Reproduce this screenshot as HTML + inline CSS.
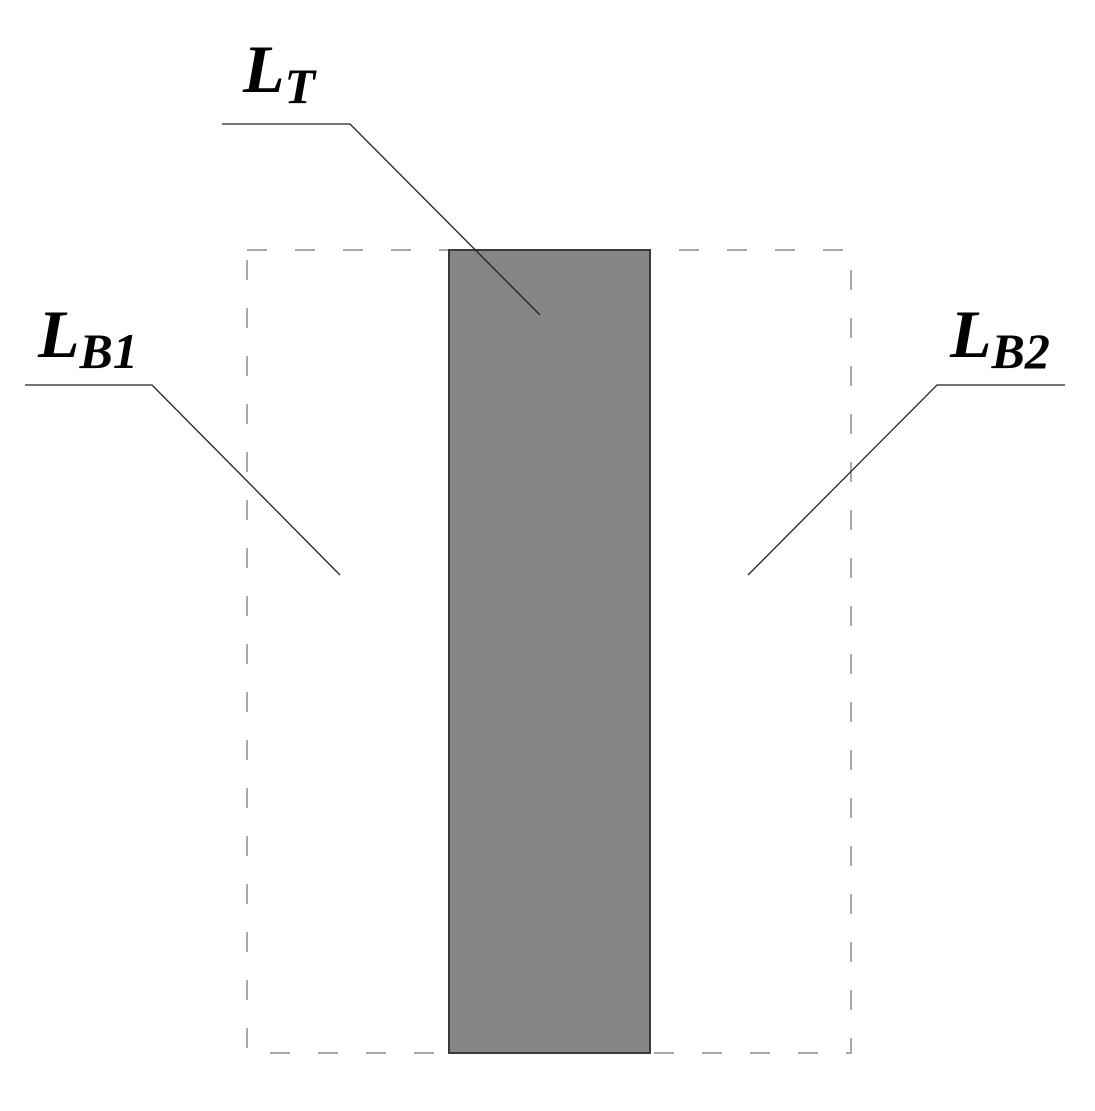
<!DOCTYPE html>
<html><head><style>html,body{margin:0;padding:0;background:#fff}</style></head>
<body>
<svg width="1095" height="1106" viewBox="0 0 1095 1106" xmlns="http://www.w3.org/2000/svg">
<rect x="247" y="250" width="604" height="803" fill="none" stroke="#a8a8a8" stroke-width="2" stroke-dasharray="20 28"/>
<rect x="449" y="250" width="201" height="803" fill="#868686" stroke="#3a3a3a" stroke-width="2"/>
<g stroke="#222" stroke-width="1.3" fill="none">
<polyline points="222,124 350,124 540,315"/>
<polyline points="25,385 152,385 340,575"/>
<polyline points="1065,385 937,385 748,575"/>
</g>
<g font-family="Liberation Serif, serif" font-weight="bold" font-style="italic" fill="#000">
<text x="243" y="92" font-size="68">L<tspan font-size="50" dy="11">T</tspan></text>
<text x="38" y="357" font-size="68">L<tspan font-size="50" dy="11">B1</tspan></text>
<text x="950" y="357" font-size="68">L<tspan font-size="50" dy="11">B2</tspan></text>
</g>
</svg>
</body></html>
